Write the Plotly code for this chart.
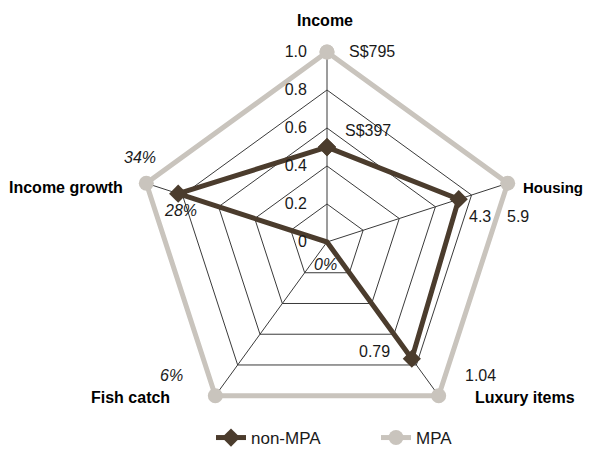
import plotly.graph_objects as go

# ---- data ----
categories = ["Income", "Housing", "Luxury items", "Fish catch", "Income growth"]
non_mpa_raw = [397, 4.3, 0.79, 0, 28]
mpa_raw = [795, 5.9, 1.04, 6, 34]
non_mpa_labels = ["S$397", "4.3", "0.79", "<i>0%</i>", "<i>28%</i>"]
mpa_labels = ["S$795", "5.9", "1.04", "<i>6%</i>", "<i>34%</i>"]
radial_tickvals = [0, 0.2, 0.4, 0.6, 0.8, 1.0]
radial_ticktext = ["0", "0.2", "0.4", "0.6", "0.8", "1.0"]

# normalise each indicator to the MPA value
non_mpa = [a / b for a, b in zip(non_mpa_raw, mpa_raw)]
mpa = [b / b for b in mpa_raw]

BROWN = "#4b3c2d"
GREY = "#c9c4bd"
GRID = "#3a3a3a"
FAMILY = "Liberation Sans, Arial, sans-serif"
NUM_FONT = dict(family=FAMILY, size=16, color="#1a1a1a")
CAT_FONT = dict(family=FAMILY, size=16, color="#000000")

# page is shown with an 8px body margin -> figure drawn 8px in from the top-left;
# keep the page within the window (no scrollbars)
OFF = 8
W, H = 595 - OFF, 457 - 2 * OFF
cx, cy, R = 327 - OFF, 242 - OFF, 190
RMAX = 1.03
RD = R * RMAX
dom = dict(x=[(cx - RD) / W, (cx + RD) / W], y=[(H - cy - RD) / H, (H - cy + RD) / H])

fig = go.Figure()

closed = lambda v: list(v) + [v[0]]

fig.add_trace(go.Scatterpolar(
    r=closed(mpa), theta=closed(categories), name="MPA", mode="lines+markers",
    line=dict(color=GREY, width=5), marker=dict(symbol="circle", size=15, color=GREY),
    cliponaxis=False, legendrank=2))
fig.add_trace(go.Scatterpolar(
    r=closed(non_mpa), theta=closed(categories), name="non-MPA", mode="lines+markers",
    line=dict(color=BROWN, width=5), marker=dict(symbol="diamond", size=14, color=BROWN),
    cliponaxis=False, legendrank=1))

# ---- text labels (page-pixel positions, anchors, font size) ----
cat_pos = [(325, 21, "center", 16), (585, 187, "right", 15), (473, 397, "left", 16),
           (172, 397, "right", 16), (125, 187, "right", 16)]
mpa_pos = [(347, 51, "left"), (505, 217, "left"), (463, 375, "left"),
           (185, 375, "right"), (122, 158, "left")]
non_pos = [(343, 131, "left"), (467, 217, "left"), (357, 351, "left"),
           (325, 264, "center"), (162, 211, "left")]

def add_label(text, pos, font):
    x, y, anchor = pos[:3]
    fig.add_annotation(text=text, x=(x - OFF) / W, y=1 - (y - OFF) / H,
                       xref="paper", yref="paper", xanchor=anchor, yanchor="middle",
                       showarrow=False, font=font)

for c, p in zip(categories, cat_pos):
    add_label("<b>%s</b>" % c, p, dict(CAT_FONT, size=p[3]))
for t, p in zip(mpa_labels, mpa_pos):
    add_label(t, p, NUM_FONT)
for t, p in zip(non_mpa_labels, non_pos):
    add_label(t, p, NUM_FONT)

fig.update_layout(
    width=W, height=H, margin=dict(l=0, r=0, t=0, b=0, autoexpand=False),
    paper_bgcolor="white", plot_bgcolor="white",
    polar=dict(
        domain=dom, bgcolor="rgba(0,0,0,0)", gridshape="linear",
        radialaxis=dict(range=[0, RMAX], angle=90, tickangle=90, side="counterclockwise",
                        tickvals=radial_tickvals, ticktext=radial_ticktext,
                        ticks="outside", ticklen=14, tickcolor="rgba(0,0,0,0)",
                        showline=False, gridcolor=GRID, gridwidth=1, tickfont=NUM_FONT),
        angularaxis=dict(type="category", categoryarray=categories, rotation=90,
                         direction="clockwise", showticklabels=False, ticks="",
                         showline=False, gridcolor=GRID, gridwidth=1),
    ),
    showlegend=True,
    legend=dict(orientation="h", x=(211 - OFF) / W, xanchor="left",
                y=1 - (438 - OFF) / H, yanchor="middle", entrywidth=120,
                font=dict(family=FAMILY, size=17, color="#1a1a1a"),
                bgcolor="rgba(0,0,0,0)"),
)

fig.write_html("out.html")
